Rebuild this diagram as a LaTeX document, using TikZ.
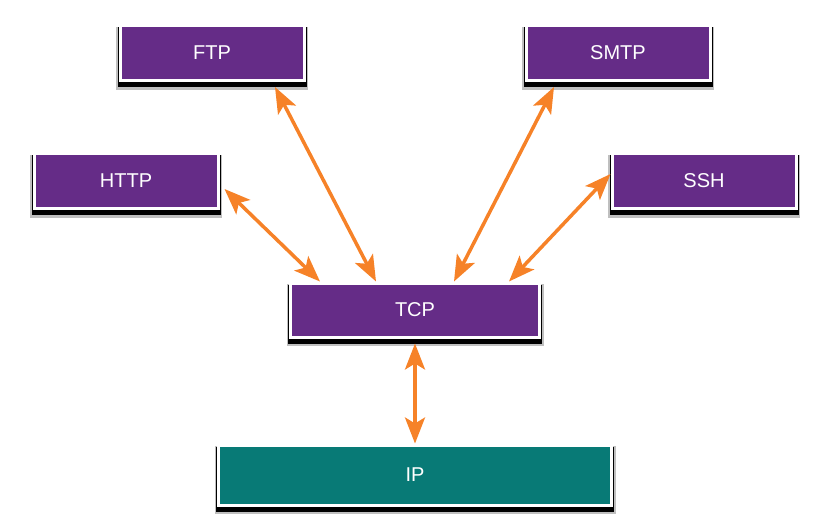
\documentclass[tikz,border=0pt]{standalone}
\usepackage{fontspec}
\setmainfont{Liberation Sans}
\usetikzlibrary{arrows.meta}

\definecolor{protocolpurple}{RGB}{101,44,135}
\definecolor{ipteal}{RGB}{8,122,118}
\definecolor{linkorange}{RGB}{246,130,40}

\begin{document}
\begin{tikzpicture}[x=1pt, y=-1pt,
  layer/.style={draw=white, line width=3pt, text=white, inner sep=0pt,
    font=\fontsize{20}{24}\selectfont,
    preaction={draw=black, fill=black, opacity=0.25, line width=8pt, transform canvas={yshift=-5pt}},
    preaction={draw=black, fill=black, line width=5pt, transform canvas={yshift=-4pt}}},
  app/.style={layer, fill=protocolpurple, minimum width=184pt, minimum height=55pt},
  link/.style={draw=linkorange, line width=3.5pt,
    {Stealth[length=26pt,width=20pt,inset=6pt]}-{Stealth[length=26pt,width=20pt,inset=6pt]}}]

\useasboundingbox (0,0) rectangle (825,530);

\node [app] (ftp) at (212,53) {FTP};
\node [app] (http) at (126,181) {HTTP};
\node [app] (smtp) at (618,53) {SMTP};
\node [app] (ssh) at (704,181) {SSH};

\node [layer, fill=protocolpurple, minimum width=249pt, minimum height=54pt] (tcp) at (415,310) {TCP};
\node [layer, fill=ipteal, minimum width=393pt, minimum height=60pt] (ip) at (415,475) {IP};

\draw [link] ([xshift=5pt,yshift=-8pt]http.east) -- ([xshift=-95pt]tcp.north);
\draw [link] ([xshift=63pt,yshift=-5pt]ftp.south) -- ([xshift=-39pt]tcp.north);
\draw [link] ([xshift=-64pt,yshift=-5pt]smtp.south) -- ([xshift=39pt]tcp.north);
\draw [link] ([yshift=7pt]ssh.west) -- ([xshift=94pt]tcp.north);

\draw [link] ([yshift=-5pt]tcp.south) -- (ip.north);

\end{tikzpicture}
\end{document}
